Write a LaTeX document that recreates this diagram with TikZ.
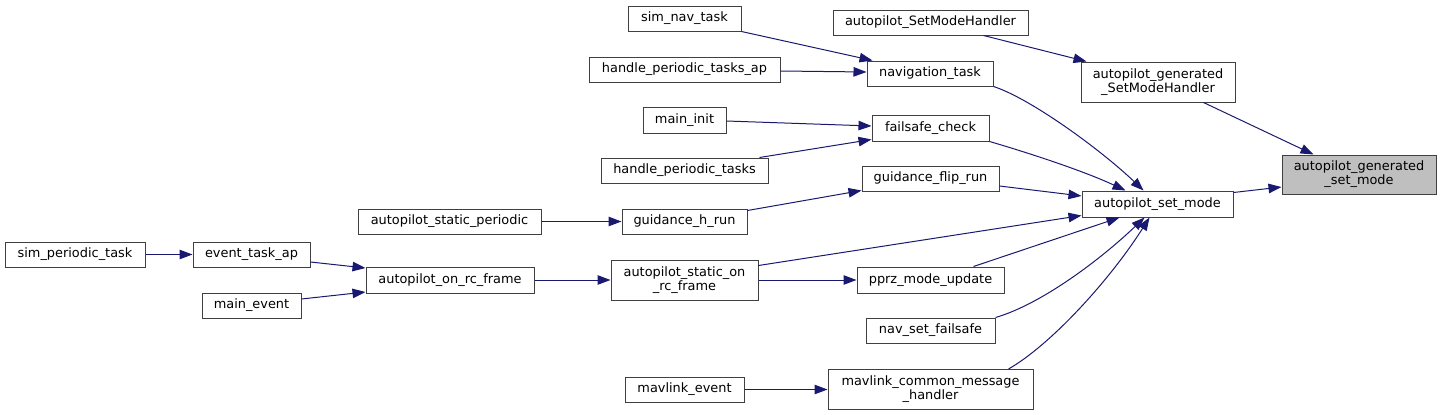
\documentclass[tikz,border=0pt]{standalone}
\usepackage{fontspec}
\setmainfont{DejaVu Sans}
\usetikzlibrary{arrows.meta}
\definecolor{edgeblue}{HTML}{191970}
\definecolor{boxline}{HTML}{404040}
\definecolor{hilite}{HTML}{BFBFBF}
\begin{document}
\begin{tikzpicture}[x=1pt,y=-1pt,
  fn/.style={draw=boxline,line width=1pt,fill=white,inner sep=0pt,align=center,
    minimum height=25pt,font=\fontsize{12.9}{14}\selectfont},
  edge/.style={draw=edgeblue,line width=1pt,-{Triangle[length=13pt,width=9.5pt]}}]
\useasboundingbox (0,0) rectangle (1441,415);
% column 1
\node[fn,minimum width=140pt] (spt) at (75,254.5) {sim\_periodic\_task};
% column 2
\node[fn,minimum width=117pt] (eta) at (251.5,254.5) {event\_task\_ap};
\node[fn,minimum width=99pt] (me) at (251.5,305.5) {main\_event};
% column 3
\node[fn,minimum width=183pt] (asp) at (449.5,221.5) {autopilot\_static\_periodic};
\node[fn,minimum width=168pt,minimum height=26pt] (aorf) at (450,280) {autopilot\_on\_rc\_frame};
% column 4
\node[fn,minimum width=113pt] (snt) at (684.5,18.5) {sim\_nav\_task};
\node[fn,minimum width=191pt] (hpta) at (684.5,69.5) {handle\_periodic\_tasks\_ap};
\node[fn,minimum width=83pt,minimum height=26pt] (mi) at (684.5,120) {main\_init};
\node[fn,minimum width=167pt] (hpt) at (684.5,170.5) {handle\_periodic\_tasks};
\node[fn,minimum width=125pt] (ghr) at (684.5,221.5) {guidance\_h\_run};
\node[fn,minimum width=147pt,minimum height=40pt] (asorf) at (684.5,280) {autopilot\_static\_on\\\_rc\_frame};
\node[fn,minimum width=119pt] (mle) at (684.5,389.5) {mavlink\_event};
% column 5
\node[fn,minimum width=195pt] (asmh) at (930.5,22.5) {autopilot\_SetModeHandler};
\node[fn,minimum width=126pt] (nt) at (930,73.5) {navigation\_task};
\node[fn,minimum width=117pt,minimum height=26pt] (fc) at (930.5,128) {failsafe\_check};
\node[fn,minimum width=137pt] (gfr) at (930.5,178.5) {guidance\_flip\_run};
\node[fn,minimum width=147pt,minimum height=26pt] (pmu) at (930.5,280) {pprz\_mode\_update};
\node[fn,minimum width=129pt] (nsf) at (930.5,330.5) {nav\_set\_failsafe};
\node[fn,minimum width=205pt,minimum height=40pt] (mcmh) at (930.5,389.5) {mavlink\_common\_message\\\_handler};
% column 6
\node[fn,minimum width=154pt,minimum height=40pt] (agsmh) at (1158,82) {autopilot\_generated\\\_SetModeHandler};
\node[fn,minimum width=151pt,minimum height=26pt] (asm) at (1157.5,204) {autopilot\_set\_mode};
% column 7
\node[fn,fill=hilite,minimum width=154pt,minimum height=39pt] (agsm) at (1359,174.5) {autopilot\_generated\\\_set\_mode};
% edges
\draw[edge] (spt) -- (eta);
\draw[edge] ([yshift=-7.5pt]eta.east) -- ([yshift=12pt]aorf.west);
\draw[edge] ([yshift=6.5pt]me.east) -- ([yshift=-12pt]aorf.west);
\draw[edge] (aorf) -- (asorf);
\draw[edge] (asp) -- (ghr);
\draw[edge] ([yshift=-2pt]ghr.north east) -- ([yshift=1pt]gfr.south west);
\draw[edge] (snt.south east) -- ([xshift=6pt]nt.north west);
\draw[edge] ([yshift=-1.5pt]hpta.east) -- ([yshift=1.5pt]nt.west);
\draw[edge] ([yshift=-1pt]mi.east) -- ([yshift=2pt]fc.west);
\draw[edge] ([xshift=-9pt]hpt.north east) -- ([yshift=2pt]fc.south west);
\draw[edge] (asorf) -- (pmu);
\draw[edge] ([yshift=-6pt]asorf.north east) -- ([yshift=2pt]asm.south west);
\draw[edge] (mle) -- (mcmh);
\draw[edge] (nt.south east) .. controls +(37,12) and +(-43,-41) .. ([xshift=62pt]asm.north west);
\draw[edge] (fc.south east) .. controls +(31,9) and +(-45,-21) .. ([xshift=44pt]asm.north west);
\draw[edge] ([yshift=-7.5pt]gfr.east) -- ([yshift=8pt]asm.west);
\draw[edge] ([xshift=-31pt]pmu.north east) -- ([xshift=38pt]asm.south west);
\draw[edge] (nsf.north east) .. controls +(45,-13) and +(-45,43) .. ([xshift=63pt]asm.south west);
\draw[edge] ([xshift=-25pt]mcmh.north east) .. controls +(42,-24) and +(-40,63) .. ([xshift=68pt]asm.south west);
\draw[edge] ([xshift=-45pt]asmh.south east) -- ([xshift=6pt]agsmh.north west);
\draw[edge] ([xshift=-32pt]agsmh.south east) -- ([xshift=32pt]agsm.north west);
\draw[edge] ([yshift=-2pt]asm.north east) -- ([yshift=-12.5pt]agsm.west);
\end{tikzpicture}
\end{document}
